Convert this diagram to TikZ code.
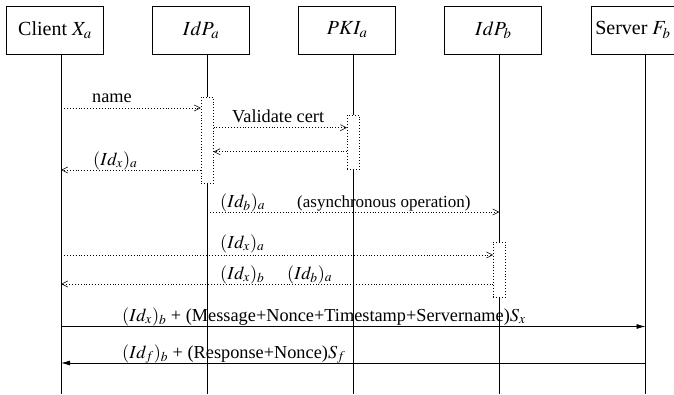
\documentclass[tikz,border=0pt]{standalone}
\usepackage{mathptmx}
\usepackage[no-math]{fontspec}
\setmainfont{Liberation Serif}
\usepackage{tikz}
\usetikzlibrary{positioning,calc,arrows.meta}
\tikzset{
	>={Straight Barb[length=6pt,width=6pt]},
	actor/.style={rectangle, draw=black, line width=0.8pt, minimum width=97pt, minimum height=48pt, inner sep=0pt, font=\fontsize{20}{24}\selectfont},
	life/.style={black, line width=0.8pt},
	act/.style={rectangle, draw=black, line width=0.6pt, dash pattern=on 0.7pt off 2.2pt, minimum width=12pt, inner sep=0pt},
	dmsg/.style={->, line width=0.6pt, dash pattern=on 0.7pt off 2.2pt},
	smsg/.style={-{Latex[length=9pt,width=5pt]}, line width=0.7pt},
	lbl/.style={anchor=base west, inner sep=0pt, font=\fontsize{18.3}{22}\selectfont},
}

\begin{document}
\begin{tikzpicture}[x=1pt,y=-1pt]
	\useasboundingbox (0,0) rectangle (674,394);
	\coordinate (bot) at (0,394);
	
	% the parties
	\node[actor] (client) at (55,30) {Client $X_a$};
	\node[actor] (idpa) [right=48.3pt of client] {$IdP_a$};
	\node[actor] (pkia) [right=48.3pt of idpa] {$PKI_a$};
	\node[actor] (idpb) [right=48.3pt of pkia] {$IdP_b$};
	\node[actor, minimum width=84pt] (server) [right=48.3pt of idpb] {Server $F_b$};
	\foreach \n in {client,idpa,pkia,idpb,server}
	\coordinate (l\n) at ($(\n.south west)+(55,0)$);
	
	% activations
	\node[act, minimum height=86pt] (actA) at (lidpa |- 0,140) {};
	\node[act, minimum height=54pt] (actP) at (lpkia |- 0,142) {};
	\node[act, minimum height=55pt] (actB) at (lidpb |- 0,269.5) {};
	
	% lifelines
	\foreach \n in {client,server}
	\draw[life] (l\n) -- (l\n |- bot);
	\draw[life] (lidpa) -- (actA.north);
	\draw[life] (actA.south) -- (actA.south |- bot);
	\draw[life] (lpkia) -- (actP.north);
	\draw[life] (actP.south) -- (actP.south |- bot);
	\draw[life] (lidpb) -- (actB.north);
	\draw[life] (actB.south) -- (actB.south |- bot);
	
	% messages
	\draw[dmsg] (lclient |- 0,108) -- (actA.west |- 0,108);
	\node[lbl] at (92,102) {name};
	\draw[dmsg] (actA.east |- 0,127.7) -- (actP.west |- 0,127.7);
	\node[lbl] at (232,122) {Validate cert};
	\draw[dmsg] (actP.west |- 0,151.7) -- (actA.east |- 0,151.7);
	\draw[dmsg] (actA.west |- 0,170) -- (lclient |- 0,170);
	\node[lbl] at (93,165) {$(Id_x)_a$};
	
	\draw[dmsg] (lidpa |- 0,212) -- (lidpb |- 0,212);
	\node[lbl] at (220,207) {$(Id_b)_a$};
	\node[lbl, font=\fontsize{17}{20}\selectfont] at (297,207) {(asynchronous operation)};
	
	\draw[dmsg] (lclient |- 0,255) -- (actB.west |- 0,255);
	\node[lbl] at (220,248) {$(Id_x)_a$};
	\draw[dmsg] (actB.west |- 0,284) -- (lclient |- 0,284);
	\node[lbl] at (220,279) {$(Id_x)_b$};
	\node[lbl] at (287,279) {$(Id_b)_a$};
	
	\draw[smsg] (lclient |- 0,326.5) -- (lserver |- 0,326.5);
	\node[lbl] at (122,321) {$(Id_x)_b$ + (Message+Nonce+Timestamp+Servername)$S_x$};
	\draw[smsg] (lserver |- 0,363) -- (lclient |- 0,363);
	\node[lbl] at (122,358) {$(Id_f)_b$ + (Response+Nonce)$S_f$};
\end{tikzpicture}
\end{document}
